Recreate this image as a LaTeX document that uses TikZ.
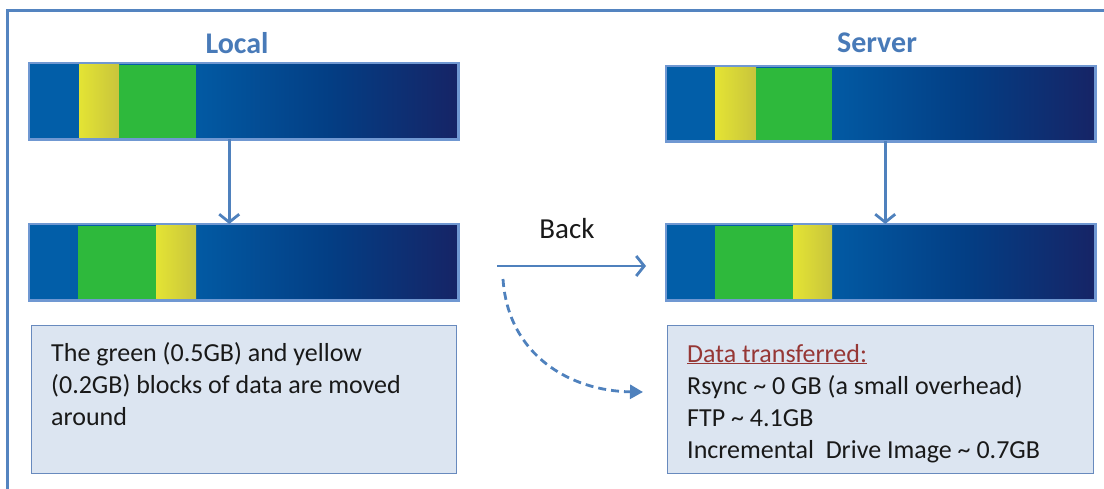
\documentclass[tikz,border=0pt]{standalone}
\usepackage{fontspec}
\setmainfont{Carlito}
\usetikzlibrary{arrows.meta,calc}
\definecolor{frameblue}{RGB}{84,132,192}
\definecolor{arrowblue}{RGB}{79,129,189}
\definecolor{labelblue}{RGB}{72,122,184}
\definecolor{barL}{RGB}{2,94,168}
\definecolor{barM}{RGB}{3,62,132}
\definecolor{barR}{RGB}{22,36,102}
\definecolor{barborder}{RGB}{112,152,210}
\definecolor{yel1}{RGB}{228,228,52}
\definecolor{yel2}{RGB}{200,196,60}
\definecolor{grn}{RGB}{46,185,60}
\definecolor{boxfill}{RGB}{220,229,241}
\definecolor{boxborder}{RGB}{104,138,190}
\definecolor{darkred}{RGB}{150,55,53}
\definecolor{txt}{RGB}{25,25,25}
\pgfdeclarehorizontalshading{barshade}{100bp}{color(0bp)=(barL); color(25bp)=(barL); color(42bp)=(barL); color(60bp)=(barM); color(75bp)=(barR); color(100bp)=(barR)}
\tikzset{
  bar/.style={rectangle, anchor=north west, inner sep=0pt, minimum width=429pt,
    minimum height=76pt, shading=barshade},
  barframe/.style={draw=barborder, line width=2.6pt},
  yblock/.style={left color=yel1, middle color=yel1, right color=yel2},
  gblock/.style={fill=grn},
  infobox/.style={rectangle, anchor=north west, inner sep=0pt, minimum width=425pt,
    minimum height=148pt, fill=boxfill, draw=boxborder, line width=1.2pt},
  title/.style={font=\fontsize{30}{34}\selectfont\bfseries, text=labelblue, anchor=base},
  bodytext/.style={font=\fontsize{26}{32}\selectfont, text=txt, anchor=base west,
    align=left, inner sep=0pt},
  flow/.style={draw=arrowblue, line width=2.8pt,
    -{Straight Barb[length=8pt,width=20pt,line width=2.8pt]}},
  dflow/.style={draw=arrowblue, line width=2.8pt, dash pattern=on 8pt off 5pt,
    -{Triangle[length=13pt,width=14pt]}},
}
\begin{document}
\begin{tikzpicture}[x=1pt,y=-1pt]
\useasboundingbox (0,0) rectangle (1104,488);
% outer frame (partially visible)
\draw[frameblue, line width=3pt] (7,490) -- (7,10) -- (1106,10);

% titles
\node[title] (tl) at (237,53) {Local};
\node[title] (ts) at (877,52) {Server};

% Local bars
\node[bar] (l1) at (29,63) {};
\fill[yblock] (79,64.5) rectangle (119,137.5);
\fill[gblock] (119,64.5) rectangle (196,137.5);
\draw[barframe] (l1.north west) rectangle (l1.south east);

\node[bar] (l2) at (29,224) {};
\fill[gblock] (78,225.5) rectangle (156,298.5);
\fill[yblock] (156,225.5) rectangle (196,298.5);
\draw[barframe] (l2.north west) rectangle (l2.south east);

% Server bars
\node[bar, minimum height=75pt] (s1) at (666,66) {};
\fill[yblock] (715,67.5) rectangle (756,139.5);
\fill[gblock] (756,67.5) rectangle (832,139.5);
\draw[barframe] (s1.north west) rectangle (s1.south east);

\node[bar] (s2) at (666,224) {};
\fill[gblock] (715,225.5) rectangle (793,298.5);
\fill[yblock] (793,225.5) rectangle (832,298.5);
\draw[barframe] (s2.north west) rectangle (s2.south east);

% vertical arrows
\draw[flow] ([xshift=-14.5pt]l1.south) -- ([xshift=-14.5pt]l2.north);
\draw[flow] ([xshift=4.5pt]s1.south) -- ([xshift=4.5pt]s2.north);

% Back arrow
\node[font=\fontsize{29}{32}\selectfont, text=txt, anchor=base] (back) at (567,238) {Back};
\coordinate (b0) at (497,266);
\coordinate (b1) at (646,266);
\draw[flow] (b0) -- (b1);
\coordinate (d0) at (503,279);
\coordinate (d1) at (643,392);
\draw[dflow] (d0) .. controls (508,355) and (570,391) .. (d1);

% info boxes
\node[infobox] (lbox) at (31,325) {};
\node[bodytext] (ltext) at (51,425) {The green (0.5GB) and yellow\\(0.2GB) blocks of data are moved\\around};

\node[infobox, minimum width=426pt] (rbox) at (667,325) {};
\node[bodytext] (rtext) at (687,458) {\textcolor{darkred}{\underline{Data transferred:}}\\Rsync \textasciitilde\ 0 GB (a small overhead)\\FTP \textasciitilde\ 4.1GB\\Incremental\ \ Drive Image \textasciitilde\ 0.7GB};
\end{tikzpicture}
\end{document}
